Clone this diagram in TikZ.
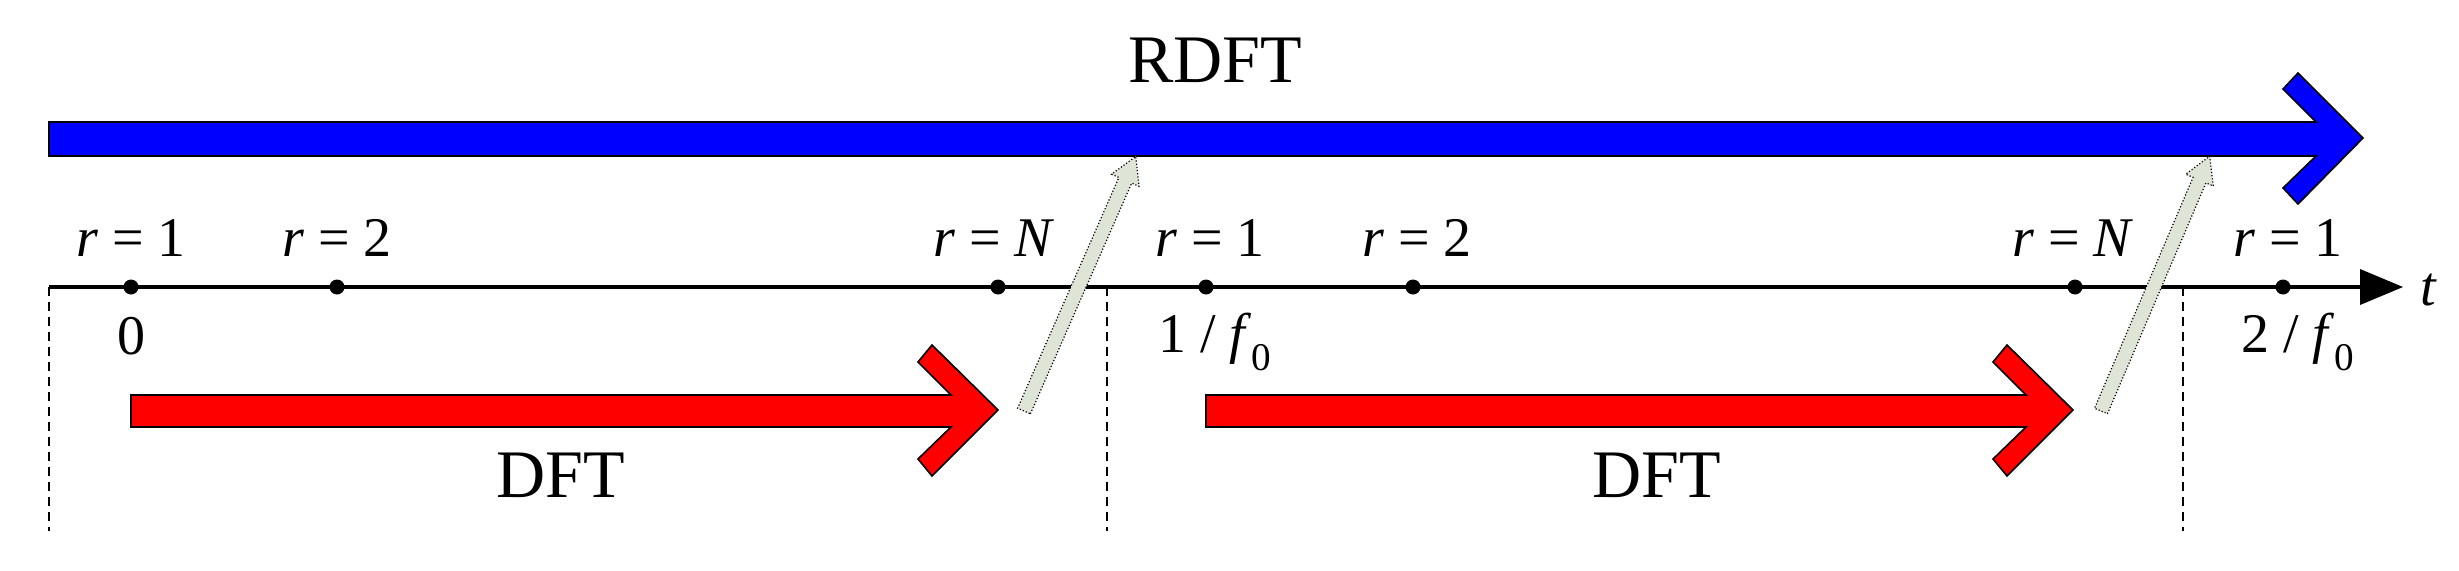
\documentclass[tikz,border=0pt]{standalone}
\usepackage{fontspec}
\setmainfont{Liberation Serif}
\begin{document}
\begin{tikzpicture}[x=1pt,y=-1pt,
  lab/.style={font=\fontsize{56}{60}\selectfont, inner sep=0pt},
  big/.style={font=\fontsize{68}{72}\selectfont, inner sep=0pt},
  dot/.style={circle, fill=black, inner sep=0pt, minimum size=15pt},
  sepline/.style={line width=1.3pt, dash pattern=on 9pt off 6pt},
  edge/.style={draw=black, line width=1.6pt},
  gray arrow/.style={fill={rgb,255:red,223;green,229;blue,214}, draw=black, line width=1.2pt, dotted}]
\useasboundingbox (0,0) rectangle (2459,570);
% blue RDFT arrow
\filldraw[edge, fill=blue] (49,122) -- (2316,122) -- (2283,89) -- (2298,73) -- (2363,138) -- (2298,204) -- (2283,188) -- (2316,156) -- (49,156) -- cycle;
\node[big] (rdft) at (1215,60) {RDFT};
% axis
\coordinate (a0) at (49,287);
\coordinate (aend) at (2365,287);
\draw[line width=4.5pt] (a0) -- (aend);
\fill (2360,269) -- (2403,287) -- (2360,305) -- cycle;
\node[font=\fontsize{56}{60}\selectfont\itshape, inner sep=0pt] (t) at (2428,290) {t};
% dashed separators
\coordinate (d1t) at (49,287); \coordinate (d1b) at (49,531);
\coordinate (d2t) at (1107,287); \coordinate (d2b) at (1107,531);
\coordinate (d3t) at (2183,287); \coordinate (d3b) at (2183,531);
\draw[sepline] (d1t) -- (d1b);
\draw[sepline] (d2t) -- (d2b);
\draw[sepline] (d3t) -- (d3b);
% dots
\node[dot] (p1) at (131,287) {};
\node[dot] (p2) at (337,287) {};
\node[dot] (pN) at (998,287) {};
\node[dot] (q1) at (1206,287) {};
\node[dot] (q2) at (1413,287) {};
\node[dot] (qN) at (2075,287) {};
\node[dot] (s1) at (2283,287) {};
% labels above
\node[lab] (lp1) at (131,238) {\textit{r} = 1};
\node[lab] (lp2) at (337,238) {\textit{r} = 2};
\node[lab] (lpN) at (994,238) {\textit{r} = \textit{N}};
\node[lab] (lq1) at (1210,238) {\textit{r} = 1};
\node[lab] (lq2) at (1417,238) {\textit{r} = 2};
\node[lab] (lqN) at (2073,238) {\textit{r} = \textit{N}};
\node[lab] (ls1) at (2288,238) {\textit{r} = 1};
% labels below
\node[lab] (l0) at (131,336) {0};
\node[lab] (l1f) at (1215,342) {1 / \textit{f}\textsubscript{0}};
\node[lab] (l2f) at (2298,342) {2 / \textit{f}\textsubscript{0}};
% red DFT arrows
\filldraw[edge, fill=red] (131,395) -- (951,395) -- (918,362) -- (932,345) -- (998,410) -- (932,476) -- (918,459) -- (951,427) -- (131,427) -- cycle;
\filldraw[edge, fill=red] (1206,395) -- (2026,395) -- (1993,362) -- (2007,345) -- (2073,410) -- (2007,476) -- (1993,459) -- (2026,427) -- (1206,427) -- cycle;
\node[big] (dft1) at (561,475) {DFT};
\node[big] (dft2) at (1657,475) {DFT};
% gray arrows
\coordinate (g1s) at (1024,411); \coordinate (g1e) at (1136,156);
\coordinate (g2s) at (2101,411); \coordinate (g2e) at (2210,156);
\begin{scope}[shift={(g1s)}, rotate=66.3]
\draw[gray arrow] (0pt,-7pt) -- (252pt,-7pt) -- (252pt,-15pt) -- (278pt,0pt) -- (252pt,15pt) -- (252pt,7pt) -- (0pt,7pt) -- cycle;
\end{scope}
\begin{scope}[shift={(g2s)}, rotate=66.9]
\draw[gray arrow] (0pt,-7pt) -- (251pt,-7pt) -- (251pt,-15pt) -- (277pt,0pt) -- (251pt,15pt) -- (251pt,7pt) -- (0pt,7pt) -- cycle;
\end{scope}
\end{tikzpicture}
\end{document}
